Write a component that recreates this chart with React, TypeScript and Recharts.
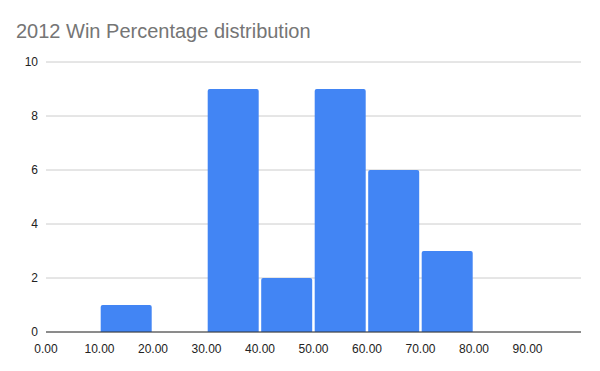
import React from 'react'
import { Bar, BarChart, CartesianGrid, XAxis, YAxis } from 'recharts'

// Histogram bins of width 10, 0 → 100
const BIN_STARTS = [0, 10, 20, 30, 40, 50, 60, 70, 80, 90]
const COUNTS = [0, 1, 0, 9, 2, 9, 6, 3, 0, 0]
const Y_TICKS = [0, 2, 4, 6, 8, 10]

const rows = BIN_STARTS.map((start, i) => ({ bin: start.toFixed(2), count: COUNTS[i] }))

const W = 600
const H = 371
const MARGIN = { top: 62, right: 19, left: 0, bottom: 0 }
const Y_WIDTH = 46
const BAND = (W - Y_WIDTH - MARGIN.right) / BIN_STARTS.length
const FONT = '"Liberation Sans", Arial, sans-serif'

// label sits at the left edge of its bin, not the middle
function BinTick(props: any) {
  const { x, y, payload } = props
  return (
    <text x={x - BAND / 2} y={y + 4} textAnchor="middle" dy="0.71em" fontSize={12} fill="#222" fontFamily={FONT}>
      {payload.value}
    </text>
  )
}

export default function App() {
  return (
    <div style={{ position: 'absolute', left: 0, top: 0, width: W, height: H, background: '#fff' }}>
      <div
        style={{
          position: 'absolute',
          left: 16,
          top: 20,
          fontFamily: FONT,
          fontSize: 20,
          color: '#757575',
          whiteSpace: 'nowrap',
        }}
      >
        2012 Win Percentage distribution
      </div>
      <BarChart width={W} height={H} data={rows} margin={MARGIN} barCategoryGap={1.2}>
        <CartesianGrid stroke="#cccccc" vertical={false} />
        <XAxis
          dataKey="bin"
          tick={<BinTick />}
          tickLine={false}
          axisLine={{ stroke: '#333333' }}
          interval={0}
          height={39}
        />
        <YAxis
          width={Y_WIDTH}
          domain={[0, 10]}
          ticks={Y_TICKS}
          tickLine={false}
          axisLine={false}
          tick={{ fontSize: 12, fill: '#222', fontFamily: FONT }}
        />
        <Bar dataKey="count" fill="#4285f4" radius={[2, 2, 0, 0]} isAnimationActive={false} />
      </BarChart>
    </div>
  )
}
